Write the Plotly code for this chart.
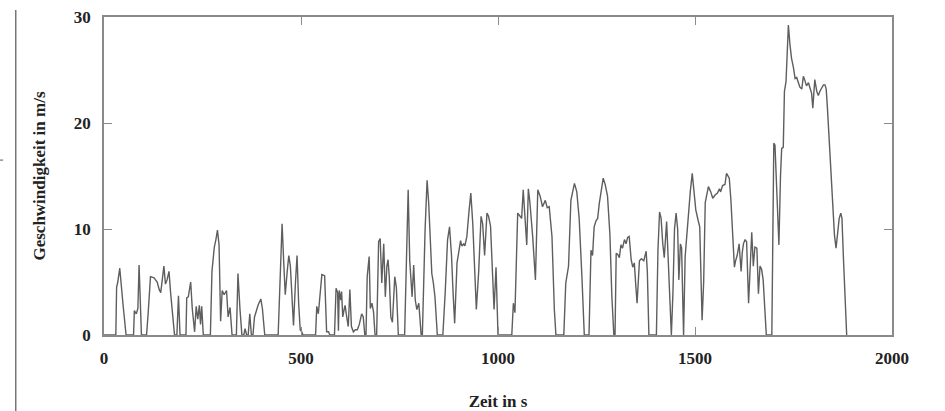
import plotly.graph_objects as go

# Fahrzyklus: Zeit in s und Geschwindigkeit in m/s
zeit_s = [
    0, 30, 32, 35, 40, 45, 48, 56,
    75, 77, 82, 86, 89, 95,
    108, 112, 118, 127, 135, 140, 144, 152, 156, 160, 165, 169, 173, 179,
    185, 189, 193,
    208, 210, 214, 220, 224, 230, 234, 238, 242, 245, 248, 252,
    270, 274, 280, 284, 288, 292, 296, 300, 305, 311, 315, 320, 325,
    336, 340, 345, 350,
    355, 358, 362,
    366, 370, 374,
    378, 382, 391, 398, 402, 408,
    442, 447, 452, 456, 460, 465, 469, 473, 477, 481, 486, 490, 494, 498, 502, 505,
    537, 540, 544, 548, 553, 560, 565, 570, 573,
    585, 589, 593, 595, 597, 601, 603, 606, 610, 612, 616, 620, 624, 628, 633, 638, 643, 648, 654, 658, 662,
    665, 668, 673, 676, 680, 684, 688,
    692, 697, 701, 705, 710, 714, 718, 721, 724, 728, 732, 738, 742, 747,
    763, 768, 772, 776, 782, 786, 790, 794, 799, 805,
    808, 815, 820, 824, 832, 836, 840, 846,
    860, 866, 872, 877, 882, 886, 890, 896, 902, 905, 908, 913, 916, 921, 926, 931, 936, 941, 945,
    951, 957, 961, 966, 972, 976, 981, 985, 990, 995, 1000,
    1035, 1039, 1043, 1050, 1056, 1060, 1064, 1068, 1073, 1077, 1081, 1088, 1095, 1101, 1107, 1113,
    1120, 1125, 1130, 1137, 1143, 1147,
    1167, 1172, 1179, 1185, 1190, 1194, 1200, 1206, 1213, 1219,
    1231, 1236, 1240, 1244, 1249, 1253, 1257, 1263, 1267, 1272, 1278, 1284, 1289, 1294,
    1297, 1300, 1304, 1308, 1312, 1316, 1321, 1325, 1329, 1333, 1338, 1342, 1346, 1350, 1353, 1359,
    1364, 1370, 1376, 1379, 1383,
    1402, 1406, 1410, 1414, 1418, 1422, 1428, 1432, 1436, 1440, 1444, 1448, 1452, 1456, 1459, 1463,
    1466, 1470,
    1471, 1475, 1479, 1484, 1488, 1493, 1497, 1502, 1508, 1512, 1518, 1522, 1526, 1530, 1534, 1540,
    1545, 1551, 1557, 1562, 1565, 1570, 1576, 1580, 1587, 1591, 1596, 1600, 1603, 1607, 1612, 1617,
    1620, 1623, 1627, 1631, 1636, 1640, 1644, 1648, 1652, 1657, 1661, 1665, 1669, 1673, 1678, 1681,
    1695, 1698, 1700, 1703, 1709, 1713, 1717, 1720, 1724, 1727, 1731, 1734, 1737, 1741, 1745, 1750,
    1754, 1758, 1762, 1766, 1771, 1775, 1779, 1783, 1788, 1792, 1796, 1799, 1802, 1804, 1809, 1813,
    1817, 1822, 1826, 1830, 1833, 1836, 1841, 1845, 1850, 1854, 1858, 1862, 1866, 1870, 1873, 1877,
    1881, 1885,
]

geschwindigkeit = [
    0, 0, 4.5, 5.0, 6.3, 3.7, 3.0, 0,
    0, 2.3, 2.0, 2.5, 6.6, 0,
    0, 2.0, 5.5, 5.4, 5.0, 4.3, 4.0, 6.5, 4.8, 5.2, 6.0, 4.0, 2.4, 0,
    0, 3.7, 0,
    0, 3.5, 3.6, 5.0, 2.5, 0.3, 2.7, 1.5, 2.8, 1.0, 2.7, 0,
    0, 6.0, 8.3, 9.0, 9.9, 8.5, 1.3, 4.2, 3.8, 4.2, 1.7, 2.6, 0,
    0, 5.8, 2.5, 0,
    0, 0.6, 0,
    0, 2.0, 0,
    0, 1.7, 2.8, 3.4, 2.5, 0,
    0, 6.0, 10.5, 7.0, 3.8, 6.0, 7.5, 6.5, 3.0, 0.9, 5.0, 7.5, 3.0, 0.5, 0.3, 0,
    0, 2.7, 2.0, 4.0, 5.7, 5.6, 0.3, 0.3, 0,
    0, 4.4, 4.0, 0.4, 4.2, 3.3, 4.1, 1.7, 2.5, 2.8, 1.7, 0.8, 4.3, 0.8, 0.3, 0.5, 0.5, 1.0, 2.0, 1.7, 0,
    0, 5.5, 7.4, 2.5, 3.0, 2.2, 0,
    0, 8.8, 9.1, 4.9, 8.6, 3.6, 6.5, 7.1, 5.5, 1.7, 1.2, 5.5, 4.5, 0,
    0, 8.0, 13.7, 7.0, 3.6, 6.6, 3.3, 2.4, 3.0, 0,
    0, 10.0, 14.6, 12.5, 5.8, 4.9, 3.6, 0,
    0, 4.0, 9.0, 10.2, 7.5, 4.0, 1.1, 6.8, 8.3, 8.9, 8.4, 8.6, 8.4, 9.3, 11.5, 13.4, 10.5, 5.0, 2.4,
    6.0, 11.2, 10.5, 7.5, 11.5, 11.2, 10.3, 7.1, 2.4, 6.4, 0,
    0, 3.0, 2.1, 11.5, 11.2, 11.0, 13.7, 11.0, 8.5, 13.8, 12.5, 9.3, 5.2, 13.7, 13.1, 12.1,
    12.7, 12.0, 12.1, 9.3, 2.4, 0,
    0, 4.9, 6.5, 12.7, 13.7, 14.3, 13.5, 11.0, 5.5, 0,
    0, 8.0, 7.5, 10.2, 10.8, 11.0, 12.4, 13.9, 14.8, 14.2, 13.1, 9.5, 3.6, 0,
    0, 7.7, 7.6, 7.3, 8.5, 8.2, 9.0, 8.6, 9.2, 9.3, 7.1, 6.4, 6.8, 4.5, 3.0, 7.0,
    7.2, 7.0, 7.9, 6.0, 0,
    0, 8.0, 11.6, 11.0, 8.7, 7.3, 10.7, 7.0, 2.0, 0, 4.0, 10.0, 11.5, 10.0, 5.2, 8.6,
    8.2, 0,
    0, 7.4, 9.5, 11.2, 13.5, 15.25, 13.5, 11.8, 10.8, 10.2, 1.4, 5.0, 12.5, 13.4, 14.0, 13.5,
    12.9, 13.2, 13.4, 13.8, 13.5, 14.1, 14.2, 15.25, 14.8, 12.8, 8.5, 6.4, 7.0, 7.5, 8.6, 6.0,
    7.8, 8.6, 9.0, 8.8, 3.0, 6.5, 9.7, 6.5, 8.3, 8.2, 3.9, 6.5, 6.2, 5.2, 1.0, 0,
    0, 16.0, 18.1, 17.9, 13.0, 8.5, 15.0, 17.6, 17.7, 23.0, 23.9, 27.0, 29.25, 27.4, 26.1, 25.2,
    24.2, 24.3, 23.8, 23.4, 23.2, 24.4, 24.0, 23.5, 23.8, 23.2, 22.8, 21.4, 23.3, 24.1, 23.0, 22.6,
    23.0, 23.3, 23.6, 23.6, 23.2, 21.5, 18.2, 14.5, 11.3, 9.4, 8.2, 9.5, 11.0, 11.5, 11.0, 7.0,
    2.5, 0,
]

x_ticks = [0, 500, 1000, 1500, 2000]
y_ticks = [0, 10, 20, 30]

serif = "Liberation Serif, Times New Roman, serif"
label_font = dict(family=serif, size=17, color="#222222", weight="bold")
frame = "#8a8a8a"

fig = go.Figure()
fig.add_trace(go.Scatter(
    x=zeit_s, y=geschwindigkeit, mode="lines",
    line=dict(color="#5e5e5e", width=1.4),
    hoverinfo="skip", showlegend=False,
))

axis_common = dict(
    showgrid=False, zeroline=False, showline=True, mirror="ticks",
    linecolor=frame, linewidth=1.5, ticks="inside", ticklen=8,
    tickcolor=frame, tickwidth=1.2, tickfont=label_font, automargin=False,
)

fig.update_xaxes(
    range=[0, 2000], tickvals=x_ticks, ticktext=[str(v) for v in x_ticks],
    ticklabelstandoff=7,
    title=dict(text="Zeit in s", font=label_font, standoff=31),
    **axis_common,
)
fig.update_yaxes(
    range=[0, 30], tickvals=y_ticks, ticktext=[str(v) for v in y_ticks],
    ticklabelstandoff=8,
    title=dict(text="Geschwindigkeit in m/s", font=label_font, standoff=24),
    **axis_common,
)

# Seitenrand links mit kleiner Marke
fig.add_shape(type="line", xref="paper", yref="paper",
              x0=-0.112, x1=-0.112, y0=-0.24, y1=1.022,
              line=dict(color="#777777", width=1.5))
fig.add_shape(type="line", xref="paper", yref="paper",
              x0=-0.132, x1=-0.128, y0=0.55, y1=0.55,
              line=dict(color="#777777", width=1.2))

fig.update_layout(
    width=945, height=411,
    margin=dict(l=104, r=53, t=17, b=76),
    paper_bgcolor="white", plot_bgcolor="white",
)

fig.write_html("out.html")
